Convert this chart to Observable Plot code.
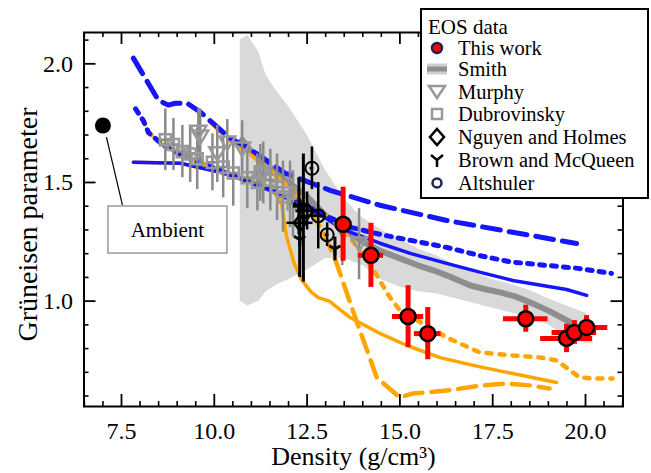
<!DOCTYPE html>
<html><head><meta charset="utf-8">
<script src="https://cdn.jsdelivr.net/npm/d3@7"></script>
<script src="https://cdn.jsdelivr.net/npm/@observablehq/plot@0.6"></script>
<style>
body{margin:0;background:#fff;}
#wrap{position:relative;width:651px;height:473px;font-family:"Liberation Serif","DejaVu Serif",serif;}
#wrap svg text{font-family:"Liberation Serif","DejaVu Serif",serif;}
#legend{position:absolute;left:420px;top:8px;}
</style></head><body><div id="wrap"></div>
<script>
// ---------- data ----------
const xTickVals = [7.5, 10.0, 12.5, 15.0, 17.5, 20.0];
const yTickVals = [1.0, 1.5, 2.0];

const ambientX = [7.0], ambientY = [1.74];

// This work
const redX = [13.47, 14.22, 15.22, 15.75, 18.39, 19.49, 19.70, 20.03];
const redY = [1.324, 1.193, 0.935, 0.863, 0.926, 0.843, 0.868, 0.889];
const redXErr = [0.12, 0.34, 0.42, 0.36, 0.60, 0.70, 0.60, 0.57];
const redYErr = [0.156, 0.135, 0.13, 0.11, 0.057, 0.06, 0.05, 0.05];

// Smith (line + band)
const smithX = [10.75, 11.0, 11.5, 12.0, 12.5, 13.0, 13.4, 14.0, 14.5, 15.0, 15.5, 15.9, 16.4, 16.9, 17.3, 17.7, 18.1, 18.5, 19.0, 19.35, 19.65];
const smithY = [1.68, 1.63, 1.56, 1.50, 1.44, 1.36, 1.31, 1.25, 1.21, 1.18, 1.15, 1.13, 1.10, 1.066, 1.05, 1.037, 1.02, 0.995, 0.96, 0.931, 0.906];
const bandX  = [10.70, 10.9, 11.2, 11.4, 11.7, 12.0, 12.5, 13.0, 13.5, 14.0, 14.5, 15.0, 15.5, 16.0, 16.5, 17.0, 17.5, 18.0, 18.5, 19.0, 19.5, 20.0, 20.2];
const bandLo = [1.00, 0.98, 1.00, 1.04, 1.07, 1.09, 1.13, 1.18, 1.18, 1.15, 1.09, 1.06, 1.04, 1.03, 1.01, 0.99, 0.97, 0.95, 0.93, 0.90, 0.85, 0.82, 0.82];
const bandHi = [2.10, 2.12, 2.05, 1.95, 1.88, 1.82, 1.70, 1.55, 1.43, 1.35, 1.30, 1.26, 1.22, 1.19, 1.15, 1.12, 1.09, 1.07, 1.045, 1.01, 0.98, 0.95, 0.90];

// Murphy (inverted triangles)
const murX = [9.57, 9.62, 10.08, 10.35, 10.75, 11.32, 12.04, 13.45, 13.90];
const murY = [1.71, 1.69, 1.62, 1.665, 1.64, 1.54, 1.45, 1.30, 1.24];
const murYErr = [0.10, 0.12, 0.12, 0.10, 0.12, 0.13, 0.14, 0.15, 0.15];

// Dubrovinsky (squares)
const dubX = [8.68, 8.90, 9.14, 9.35, 9.54, 9.95, 10.24, 10.51, 10.89, 11.16, 11.24, 11.51, 11.69, 11.85, 12.12];
const dubY = [1.68, 1.66, 1.63, 1.62, 1.60, 1.585, 1.565, 1.54, 1.52, 1.50, 1.54, 1.51, 1.48, 1.44, 1.41];
const dubXErr = [0.15, 0.15, 0.15, 0.15, 0.15, 0.15, 0.15, 0.15, 0.15, 0.15, 0.15, 0.15, 0.15, 0.15, 0.15];
const dubYErr = [0.13, 0.11, 0.11, 0.12, 0.13, 0.12, 0.13, 0.14, 0.13, 0.12, 0.12, 0.13, 0.14, 0.15, 0.14];

// Nguyen and Holmes (diamonds)
const ngX = [12.31, 12.50], ngY = [1.33, 1.38], ngXErr = [0.35, 0.30], ngYErr = [0.10, 0.08];
// Brown and McQueen (Y)
const bmX = [12.30, 12.40, 12.28, 13.25], bmY = [1.26, 1.35, 1.40, 1.22];
const bmXErr = [0.0, 0.0, 0.15, 0.0], bmYErr = [0.16, 0.27, 0.12, 0.05];
// Altshuler (open circles)
const alX = [12.63, 12.80, 13.04], alY = [1.56, 1.36, 1.28], alXErr = [0.05, 0.20, 0.05], alYErr = [0.09, 0.14, 0.05];

// model curves
const blueDashX = [7.82, 8.49, 8.76, 8.95, 9.27, 9.62, 10.43, 10.89, 11.91, 13.12, 14.46, 16.26, 18.04, 19.76];
const blueDashY = [2.024, 1.847, 1.826, 1.834, 1.834, 1.797, 1.686, 1.648, 1.539, 1.467, 1.404, 1.340, 1.290, 1.243];
const blueDotX = [7.88, 8.09, 8.23, 8.6, 9.2, 10.0, 11.0, 12.0, 13.0, 13.7, 14.5, 15.5, 16.3, 17.2, 18.0, 19.0, 19.8, 20.7];
const blueDotY = [1.81, 1.76, 1.71, 1.66, 1.61, 1.56, 1.50, 1.44, 1.36, 1.31, 1.28, 1.25, 1.225, 1.19, 1.165, 1.15, 1.138, 1.117];
const blueSolX = [7.82, 9.09, 10.16, 10.89, 11.5, 12.0, 12.5, 13.0, 13.5, 14.46, 15.3, 16.26, 17.2, 18.04, 19.49, 20.03];
const blueSolY = [1.585, 1.581, 1.543, 1.509, 1.47, 1.43, 1.39, 1.35, 1.30, 1.244, 1.20, 1.159, 1.12, 1.087, 1.049, 1.024];
const orSolX = [7.82, 9.09, 10.16, 10.89, 11.5, 11.8, 11.95, 12.15, 12.35, 12.6, 12.8, 13.1, 13.66, 14.46, 15.19, 16.08, 17.1, 18.04, 19.22];
const orSolY = [1.585, 1.581, 1.543, 1.505, 1.48, 1.42, 1.27, 1.16, 1.09, 1.04, 1.015, 1.0, 0.931, 0.864, 0.813, 0.762, 0.725, 0.695, 0.657];
const orDashX = [7.82, 8.49, 8.76, 8.95, 9.27, 9.62, 10.43, 10.89, 11.5, 12.0, 12.5, 12.9, 13.25, 13.8, 14.38, 15.0, 15.35, 16.26, 17.15, 17.88, 18.5, 19.03];
const orDashY = [2.024, 1.847, 1.826, 1.834, 1.834, 1.797, 1.675, 1.63, 1.55, 1.48, 1.40, 1.30, 1.18, 0.93, 0.677, 0.594, 0.611, 0.623, 0.644, 0.653, 0.645, 0.632];
const orDotX = [7.88, 8.09, 8.23, 8.6, 9.2, 10.0, 11.0, 12.0, 13.0, 13.7, 14.27, 14.46, 14.73, 15.0, 16.26, 17.15, 18.04, 18.76, 19.22, 19.52, 19.84, 20.24, 20.73];
const orDotY = [1.81, 1.76, 1.71, 1.66, 1.61, 1.56, 1.50, 1.44, 1.36, 1.26, 1.137, 1.087, 1.016, 0.961, 0.847, 0.784, 0.771, 0.763, 0.750, 0.716, 0.678, 0.674, 0.674];

// ---------- helpers ----------
const FONT = "'Liberation Serif', 'DejaVu Serif', serif";
const zip = (xs, ys) => xs.map((x, i) => ({x, y: ys[i]}));
const zipErr = (xs, ys, xe, ye) => xs.map((x, i) => ({x, y: ys[i], xe: xe ? xe[i] : 0, ye: ye ? ye[i] : 0}));

const triDown = {draw(ctx, size) { const r = Math.sqrt(size / Math.PI); ctx.moveTo(0, r * 0.85); ctx.lineTo(-r, -r * 0.85); ctx.lineTo(r, -r * 0.85); ctx.closePath(); }};
const diamond = {draw(ctx, size) { const r = Math.sqrt(size / Math.PI); ctx.moveTo(0, -r * 1.25); ctx.lineTo(r * 0.95, 0); ctx.lineTo(0, r * 1.25); ctx.lineTo(-r * 0.95, 0); ctx.closePath(); }};
const wye = {draw(ctx, size) { const r = Math.sqrt(size / Math.PI); ctx.moveTo(0, 0); ctx.lineTo(0, r); ctx.moveTo(0, 0); ctx.lineTo(-r * 0.87, -r * 0.5); ctx.moveTo(0, 0); ctx.lineTo(r * 0.87, -r * 0.5); }};

const red = zipErr(redX, redY, redXErr, redYErr);
const mur = zipErr(murX, murY, null, murYErr);
const dub = zipErr(dubX, dubY, dubXErr, dubYErr);
const ng = zipErr(ngX, ngY, ngXErr, ngYErr);
const bm = zipErr(bmX, bmY, bmXErr, bmYErr);
const al = zipErr(alX, alY, alXErr, alYErr);
const band = bandX.map((x, i) => ({x, lo: bandLo[i], hi: bandHi[i]}));

const W = 651, H = 473, mL = 83.5, mR = 28.5, mT = 32, mB = 67;
const fw = W - mL - mR, fh = H - mT - mB;
const xMinor = d3.range(6.5, 21.01, 0.5).map(v => +v.toFixed(2));
const yMinor = d3.range(0.6, 2.11, 0.1).map(v => +v.toFixed(2));
const isMajX = v => Math.abs((v / 2.5) - Math.round(v / 2.5)) < 1e-6;
const isMajY = v => Math.abs((v / 0.5) - Math.round(v / 0.5)) < 1e-6;

function errBars(data, stroke, w) {
  return [
    Plot.ruleX(data.filter(d => d.ye > 0), {x: "x", y1: d => d.y - d.ye, y2: d => d.y + d.ye, stroke, strokeWidth: w}),
    Plot.ruleY(data.filter(d => d.xe > 0), {y: "y", x1: d => d.x - d.xe, x2: d => d.x + d.xe, stroke, strokeWidth: w})
  ];
}

function ambientNote(index, scales) {
  const px = scales.x(ambientX[0]), py = scales.y(ambientY[0]);
  const g = d3.create("svg:g");
  g.append("line").attr("x1", px + 4).attr("y1", py + 12).attr("x2", px + 20).attr("y2", py + 80).attr("stroke", "#000").attr("stroke-width", 1.2);
  g.append("rect").attr("x", px + 5.5).attr("y", py + 81).attr("width", 119).attr("height", 47).attr("fill", "white").attr("stroke", "#808080").attr("stroke-width", 1.2);
  g.append("text").attr("x", px + 65).attr("y", py + 105).attr("text-anchor", "middle").attr("dominant-baseline", "central").attr("font-size", 21).attr("font-family", FONT).attr("fill", "#000").text("Ambient");
  return g.node();
}

const chart = Plot.plot({
  width: W, height: H, marginLeft: mL, marginRight: mR, marginTop: mT, marginBottom: mB,
  x: {domain: [6.49, 21.01], axis: null},
  y: {domain: [0.556, 2.132], axis: null},
  style: {fontFamily: FONT, fontSize: "24px", background: "white", color: "black"},
  marks: [
    Plot.areaY(band, {x: "x", y1: "lo", y2: "hi", fill: "#d5d5d5", fillOpacity: 0.9, curve: "linear"}),
    Plot.line(zip(smithX, smithY), {x: "x", y: "y", stroke: "#8e8e8e", strokeWidth: 6, strokeLinecap: "round"}),
    Plot.line(zip(orSolX, orSolY), {x: "x", y: "y", stroke: "orange", strokeWidth: 3.5}),
    Plot.line(zip(orDashX, orDashY), {x: "x", y: "y", stroke: "orange", strokeWidth: 4.5, strokeDasharray: "18,9"}),
    Plot.line(zip(orDotX, orDotY), {x: "x", y: "y", stroke: "orange", strokeWidth: 4.5, strokeDasharray: "5,8"}),
    Plot.line(zip(blueSolX, blueSolY), {x: "x", y: "y", stroke: "#1515ff", strokeWidth: 3.5}),
    Plot.line(zip(blueDashX, blueDashY), {x: "x", y: "y", stroke: "#1515ff", strokeWidth: 5, strokeDasharray: "18,9"}),
    Plot.line(zip(blueDotX, blueDotY), {x: "x", y: "y", stroke: "#1515ff", strokeWidth: 5, strokeDasharray: "5,7"}),
    ...errBars(dub, "#8a8a8a", 2.5),
    ...errBars(mur, "#8a8a8a", 2.5),
    Plot.dot(dub, {x: "x", y: "y", r: 6.3, symbol: "square", fill: "none", stroke: "#999", strokeWidth: 2.5}),
    Plot.dot(mur, {x: "x", y: "y", r: 8, symbol: triDown, fill: "none", stroke: "#999", strokeWidth: 2.5}),
    ...errBars(bm, "#000", 3),
    ...errBars(ng, "#000", 2.5),
    ...errBars(al, "#000", 2.5),
    Plot.dot(ng, {x: "x", y: "y", r: 6.5, symbol: diamond, fill: "none", stroke: "#000", strokeWidth: 2.5}),
    Plot.dot(bm, {x: "x", y: "y", r: 6.5, symbol: wye, fill: "none", stroke: "#000", strokeWidth: 3}),
    Plot.dot(al, {x: "x", y: "y", r: 6.5, fill: "none", stroke: "#000", strokeWidth: 2}),
    ...errBars(red, "red", 5),
    Plot.dot(red, {x: "x", y: "y", r: 7.5, fill: "red", stroke: "#000", strokeWidth: 2.5}),
    Plot.dot(zip(ambientX, ambientY), {x: "x", y: "y", r: 8, fill: "#000"}),
    ambientNote,
    // frame + inward ticks
    Plot.frame({stroke: "#000", strokeWidth: 2}),
    Plot.tickX(xMinor.filter(v => !isMajX(v)), {x: d => d, insetTop: fh - 5, stroke: "#000", strokeWidth: 1.6}),
    Plot.tickX(xMinor.filter(v => !isMajX(v)), {x: d => d, insetBottom: fh - 5, stroke: "#000", strokeWidth: 1.6}),
    Plot.tickX(xMinor.filter(isMajX), {x: d => d, insetTop: fh - 12, stroke: "#000", strokeWidth: 1.8}),
    Plot.tickX(xMinor.filter(isMajX), {x: d => d, insetBottom: fh - 12, stroke: "#000", strokeWidth: 1.8}),
    Plot.tickY(yMinor.filter(v => !isMajY(v)), {y: d => d, insetRight: fw - 5, stroke: "#000", strokeWidth: 1.6}),
    Plot.tickY(yMinor.filter(v => !isMajY(v)), {y: d => d, insetLeft: fw - 5, stroke: "#000", strokeWidth: 1.6}),
    Plot.tickY(yMinor.filter(isMajY), {y: d => d, insetRight: fw - 12, stroke: "#000", strokeWidth: 1.8}),
    Plot.tickY(yMinor.filter(isMajY), {y: d => d, insetLeft: fw - 12, stroke: "#000", strokeWidth: 1.8}),
    Plot.axisX({ticks: xTickVals, tickFormat: d => d.toFixed(1), tickSize: 0, tickPadding: 15, fontSize: 24, fontFamily: FONT, label: null, anchor: "bottom"}),
    Plot.axisY({ticks: yTickVals, tickFormat: d => d.toFixed(1), tickSize: 0, tickPadding: 11, fontSize: 24, fontFamily: FONT, label: null, anchor: "left"}),
    Plot.text(["Density (g/cm³)"], {text: d => d, frameAnchor: "bottom", textAnchor: "middle", dy: 58, fontSize: 26, fontFamily: FONT, fill: "#000"}),
    Plot.text(["Grüneisen parameter"], {text: d => d, frameAnchor: "left", textAnchor: "middle", rotate: -90, dx: -55.5, dy: 5, fontSize: 28, fontFamily: FONT, fill: "#000"})
  ]
});
document.getElementById("wrap").appendChild(chart);

// ---------- legend ----------
const legendRows = ["This work", "Smith", "Murphy", "Dubrovinsky", "Nguyen and Holmes", "Brown and McQueen", "Altshuler"];
const legendY = [40, 61, 84, 106, 129, 152, 175];
const lg = d3.select("#wrap").append("svg").attr("id", "legend").attr("width", 229).attr("height", 191)
  .attr("font-family", FONT);
lg.append("rect").attr("x", 1).attr("y", 1).attr("width", 227).attr("height", 189).attr("fill", "white").attr("stroke", "#000").attr("stroke-width", 2);
lg.append("text").attr("x", 8).attr("y", 19).attr("dominant-baseline", "central").attr("font-size", 21).attr("font-family", FONT).text("EOS data");
const mx = 17;
legendRows.forEach((t, i) => {
  lg.append("text").attr("x", 38).attr("y", legendY[i]).attr("dominant-baseline", "central").attr("font-size", 20.5).attr("font-family", FONT).text(t);
});
lg.append("circle").attr("cx", mx).attr("cy", legendY[0]).attr("r", 5).attr("fill", "red").attr("stroke", "#1a2550").attr("stroke-width", 2.5);
lg.append("line").attr("x1", 7).attr("x2", 27).attr("y1", legendY[1]).attr("y2", legendY[1]).attr("stroke", "#cfcfcf").attr("stroke-width", 11);
lg.append("line").attr("x1", 7).attr("x2", 27).attr("y1", legendY[1]).attr("y2", legendY[1]).attr("stroke", "#8e8e8e").attr("stroke-width", 5);
lg.append("path").attr("d", `M${mx},${legendY[2] + 6}L${mx - 8},${legendY[2] - 6}L${mx + 8},${legendY[2] - 6}Z`).attr("fill", "none").attr("stroke", "#999").attr("stroke-width", 2.5);
lg.append("rect").attr("x", mx - 5).attr("y", legendY[3] - 5).attr("width", 10).attr("height", 10).attr("fill", "none").attr("stroke", "#999").attr("stroke-width", 2.5);
lg.append("path").attr("d", `M${mx},${legendY[4] - 8}L${mx + 7},${legendY[4]}L${mx},${legendY[4] + 8}L${mx - 7},${legendY[4]}Z`).attr("fill", "none").attr("stroke", "#000").attr("stroke-width", 2.5);
lg.append("path").attr("d", `M${mx},${legendY[5]}V${legendY[5] + 7}M${mx},${legendY[5]}L${mx - 6},${legendY[5] - 5}M${mx},${legendY[5]}L${mx + 6},${legendY[5] - 5}`).attr("fill", "none").attr("stroke", "#000").attr("stroke-width", 2.5);
lg.append("circle").attr("cx", mx).attr("cy", legendY[6]).attr("r", 4.5).attr("fill", "none").attr("stroke", "#1a2550").attr("stroke-width", 2.5);
</script>
</body></html>
